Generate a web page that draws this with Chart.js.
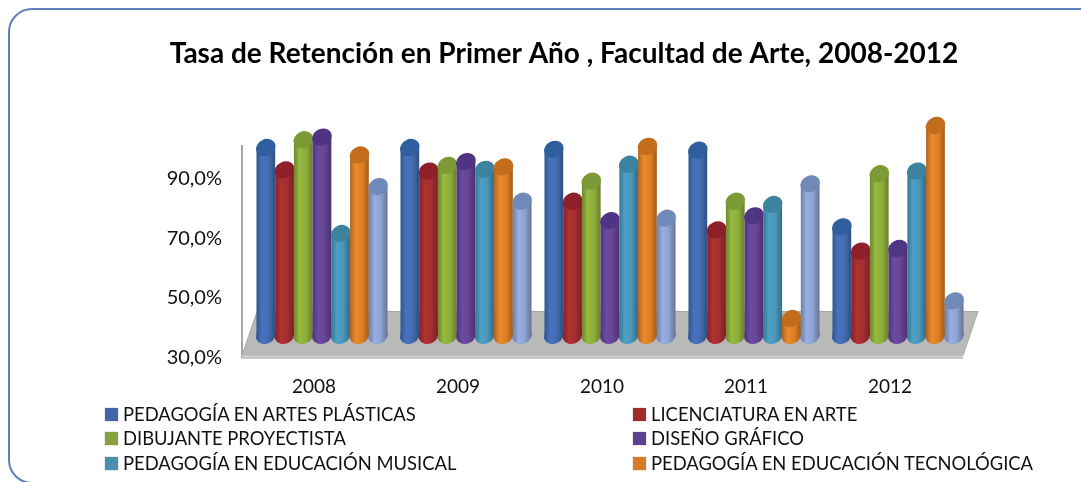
<!DOCTYPE html>
<html lang="es">
<head>
<meta charset="utf-8">
<title>Tasa de Retención</title>
<script src="https://cdn.jsdelivr.net/npm/chart.js@4"></script>
<style>
  html, body { margin: 0; padding: 0; background: #fff; overflow: hidden; }
  #wrap { position: relative; width: 1081px; height: 482px; overflow: hidden; filter: blur(0.4px); }
  #frame { position: absolute; left: 8px; top: 8px; width: 1100px; height: 476px; border: 2px solid #5f7fb9; border-radius: 24px; box-sizing: border-box; }
  canvas { position: absolute; left: 0; top: 0; }
  .key { position: absolute; height: 22px; line-height: 22px; font: 18.4px Lato, sans-serif; color: #111; white-space: nowrap; }
  .sq { position: absolute; width: 13px; height: 13px; box-shadow: 0 0 1px #888; }
</style>
</head>
<body>
<div id="wrap">
  <div id="frame"></div>
  <canvas id="chart" width="1081" height="482"></canvas>
  <div id="legend"></div>
</div>
<script>
const years = ['2008', '2009', '2010', '2011', '2012'];
const yTicks = [30, 50, 70, 90];

const artesPlasticas = [93.0, 93.0, 92.4, 92.1, 66.4];
const licenciatura = [85.5, 85.1, 75.0, 65.4, 58.3];
const dibujante = [95.6, 87.0, 81.7, 75.0, 84.2];
const disenoGrafico = [96.5, 88.3, 68.5, 70.1, 59.2];
const musical = [64.2, 85.7, 87.4, 73.9, 85.1];
const tecnologica = [90.5, 86.5, 93.4, 35.7, 100.4];
const septima = [79.9, 75.0, 69.3, 80.8, 41.6];

// name, values, body colour, cap colour, legend colour
const series = [
  ['PEDAGOGÍA EN ARTES PLÁSTICAS', artesPlasticas, '#4672bc', '#2f5f9e', '#3f66a8'],
  ['LICENCIATURA EN ARTE', licenciatura, '#ae3033', '#8f1f28', '#a02c2c'],
  ['DIBUJANTE PROYECTISTA', dibujante, '#94b63f', '#7c9a35', '#86a03c'],
  ['DISEÑO GRÁFICO', disenoGrafico, '#6a4a9e', '#4f3385', '#5d4190'],
  ['PEDAGOGÍA EN EDUCACIÓN MUSICAL', musical, '#4c9ec2', '#3c83a0', '#4a8fae'],
  ['PEDAGOGÍA EN EDUCACIÓN TECNOLÓGICA', tecnologica, '#e98729', '#c26d1c', '#d87a28'],
  ['', septima, '#94abdd', '#7189b8', '#94abdd']
];

// how far the columns sit behind the front of the axis
const depthX = 8;
const depthY = 22;

// shade a #rrggbb colour, f below 1 goes darker
function shade(hex, f) {
  const n = parseInt(hex.slice(1), 16);
  const c = [n >> 16, (n >> 8) & 255, n & 255].map(v => Math.min(255, Math.round(v * f)));
  return `rgb(${c[0]},${c[1]},${c[2]})`;
}

function drawFloor(chart) {
  const { ctx, chartArea: a } = chart;
  const front = a.bottom - 2;
  const back = a.bottom - 46;
  ctx.save();
  ctx.fillStyle = '#b9b9b9';
  ctx.beginPath();
  ctx.moveTo(a.left, front);
  ctx.lineTo(a.left + 15, back);
  ctx.lineTo(a.right + 16, back);
  ctx.lineTo(a.right + 1, front);
  ctx.closePath();
  ctx.fill();
  ctx.strokeStyle = '#a8a8a8';
  ctx.stroke();
  ctx.fillStyle = '#d6d6d6';
  ctx.fillRect(a.left, front, a.right - a.left + 1, 2);
  ctx.fillStyle = '#9a9a9a';
  ctx.fillRect(a.left, front + 2, a.right - a.left + 1, 1);
  ctx.restore();
}

function drawCylinder(ctx, bar, body, cap) {
  const w = bar.width;
  const x = bar.x + depthX;
  const top = bar.y - depthY;
  const bottom = bar.base - depthY;
  const rx = w * 0.54;
  const ry = w * 0.44;
  const tilt = -25 * Math.PI / 180;

  const g = ctx.createLinearGradient(x - w / 2, 0, x + w / 2, 0);
  g.addColorStop(0, shade(body, 0.74));
  g.addColorStop(0.3, shade(body, 1.02));
  g.addColorStop(0.65, shade(body, 0.95));
  g.addColorStop(1, shade(body, 0.68));

  ctx.fillStyle = g;
  ctx.beginPath();
  ctx.ellipse(x, bottom, rx, ry, tilt, 0, Math.PI * 2);
  ctx.fill();
  ctx.fillRect(x - w / 2, top, w, bottom - top);

  ctx.fillStyle = cap;
  ctx.beginPath();
  ctx.ellipse(x, top, rx, ry, tilt, 0, Math.PI * 2);
  ctx.fill();
}

const cylinders = {
  id: 'cylinders',
  beforeDatasetsDraw(chart) {
    drawFloor(chart);
    const ctx = chart.ctx;
    ctx.save();
    series.forEach((s, i) => {
      chart.getDatasetMeta(i).data.forEach(bar => drawCylinder(ctx, bar, s[2], s[3]));
    });
    ctx.restore();
  },
  // the flat bars are replaced by the cylinders above
  beforeDatasetDraw() { return false; }
};

const chart = new Chart(document.getElementById('chart'), {
  type: 'bar',
  data: {
    labels: years,
    datasets: series.map(s => ({ label: s[0], data: s[1], backgroundColor: s[2], base: 30 }))
  },
  plugins: [cylinders],
  options: {
    responsive: false,
    animation: false,
    layout: { padding: { left: 166, right: 119, top: 0, bottom: 0 } },
    datasets: { bar: { categoryPercentage: 0.91, barPercentage: 1 } },
    plugins: {
      legend: { display: false },
      tooltip: { enabled: false },
      title: {
        display: true,
        text: 'Tasa de Retención en Primer Año , Facultad de Arte, 2008-2012',
        color: '#000',
        font: { family: 'Lato', size: 28, weight: 'bold' },
        padding: { top: 37, bottom: 75 }
      }
    },
    scales: {
      x: {
        grid: { display: false },
        border: { display: false },
        ticks: { color: '#111', font: { family: 'Lato', size: 19 }, padding: 10, maxRotation: 0 },
        afterFit: s => { s.height = 124.5; }
      },
      y: {
        min: 30,
        max: 101,
        afterBuildTicks: s => { s.ticks = yTicks.map(v => ({ value: v })); },
        afterFit: s => { s.width = 76; },
        grid: { display: false, drawTicks: false },
        border: { color: '#a6a6a6', width: 2 },
        ticks: {
          color: '#111',
          font: { family: 'Lato', size: 20 },
          padding: 20,
          callback: v => v.toFixed(1).replace('.', ',') + '%'
        }
      }
    }
  }
});

// two column legend, the seventh series has no entry in the picture
const legendEl = document.getElementById('legend');
const squareX = [105, 633];
const textX = [123, 651];
const legendY = [415, 439, 464];
series.slice(0, 6).forEach((s, i) => {
  const col = i % 2;
  const row = Math.floor(i / 2);
  const sq = document.createElement('div');
  sq.className = 'sq';
  sq.style.left = squareX[col] + 'px';
  sq.style.top = (legendY[row] - 7) + 'px';
  sq.style.background = s[4];
  const key = document.createElement('div');
  key.className = 'key';
  key.textContent = s[0];
  key.style.left = textX[col] + 'px';
  key.style.top = (legendY[row] - 12) + 'px';
  legendEl.appendChild(sq);
  legendEl.appendChild(key);
});
</script>
</body>
</html>
